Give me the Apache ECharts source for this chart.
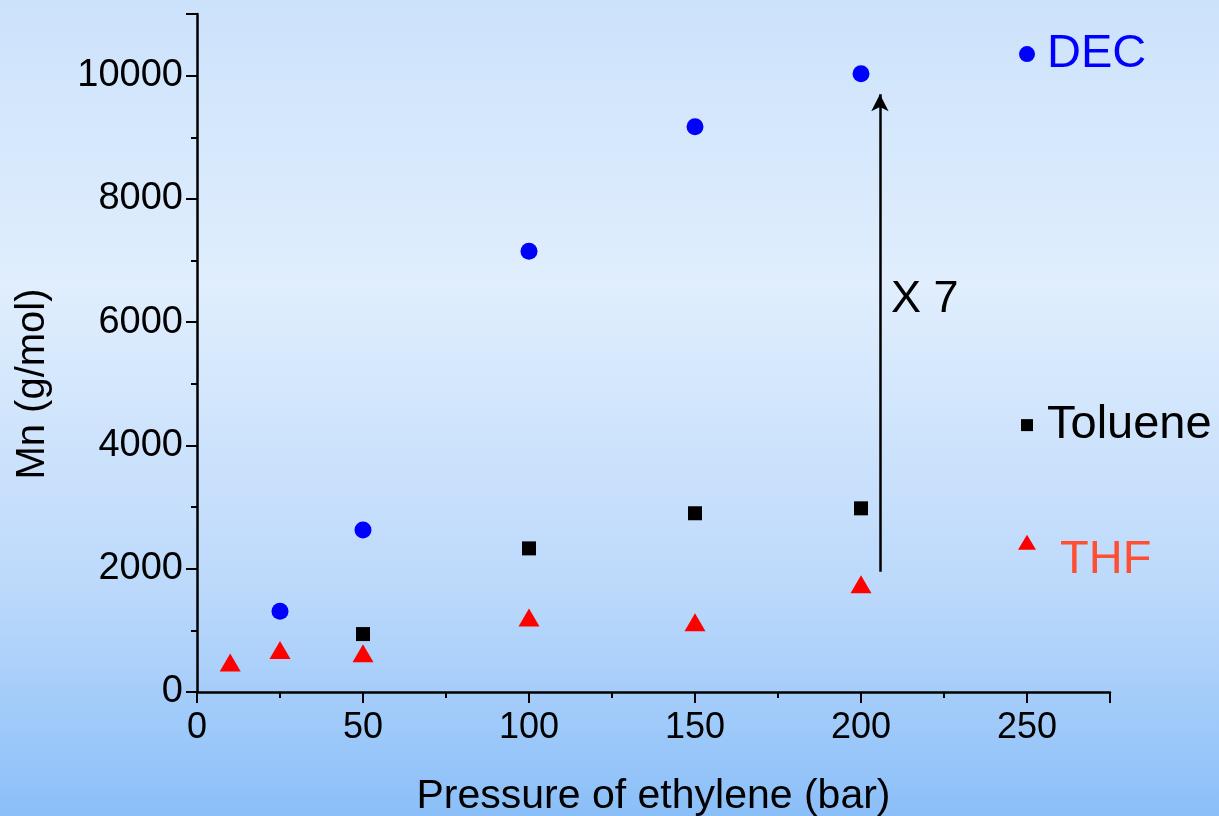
<!DOCTYPE html>
<html>
<head>
<meta charset="utf-8">
<script src="https://cdn.jsdelivr.net/npm/echarts@6/dist/echarts.min.js"></script>
<style>
  html, body { margin: 0; padding: 0; }
  #chart { width: 1219px; height: 816px; }
</style>
</head>
<body>
<div id="chart"></div>
<script>
// pressure (bar) / Mn (g/mol)
var decX = [25, 50, 100, 150, 200];
var decY = [1310, 2630, 7150, 9170, 10030];
var tolX = [50, 100, 150, 200];
var tolY = [940, 2330, 2900, 2980];
var thfX = [10, 25, 50, 100, 150, 200];
var thfY = [480, 680, 630, 1210, 1130, 1750];

// in-plot key markers and labels
var keyNames = ['DEC', 'Toluene', 'THF'];
var keyX = [250, 250, 250];
var keyY = [10350, 4330, 2430];

// "X 7" arrow
var arrowX = 205.7;
var arrowFrom = 1950;
var arrowTo = 9700;
var arrowText = 'X 7';
var arrowTextPos = [209, 6360];

function pairs(xs, ys) {
  return xs.map(function (x, i) { return [x, ys[i]]; });
}

var chart = echarts.init(document.getElementById('chart'));
var font = 'Liberation Sans, Arial, sans-serif';

var option = {
  backgroundColor: new echarts.graphic.LinearGradient(0, 0, 0, 1, [
    { offset: 0, color: '#cce2fb' },
    { offset: 0.35, color: '#e0eefd' },
    { offset: 0.72, color: '#bcd9fb' },
    { offset: 1, color: '#8bbff8' }
  ]),
  animation: false,
  grid: { left: 197, right: 109, top: 14, bottom: 124, outerBoundsMode: 'none' },
  xAxis: {
    type: 'value',
    min: 0,
    max: 275,
    interval: 50,
    name: 'Pressure of ethylene (bar)',
    nameLocation: 'middle',
    nameGap: 84,
    nameTextStyle: { color: '#000', fontSize: 41, fontFamily: font },
    axisLine: { show: true, lineStyle: { color: '#000', width: 2.5 } },
    axisTick: { show: true, length: 11, lineStyle: { color: '#000', width: 2 } },
    minorTick: { show: true, splitNumber: 2, length: 6, lineStyle: { color: '#000', width: 2 } },
    splitLine: { show: false },
    axisLabel: {
      color: '#000', fontSize: 36, fontFamily: font, margin: 18, showMaxLabel: false,
      formatter: function (v) { return String(v); }
    }
  },
  yAxis: {
    type: 'value',
    min: 0,
    max: 11000,
    interval: 2000,
    name: 'Mn (g/mol)',
    nameLocation: 'middle',
    nameGap: 144,
    nameTextStyle: { color: '#000', fontSize: 40, fontFamily: font, padding: [0, 62, 0, 0] },
    axisLine: { show: true, lineStyle: { color: '#000', width: 2.5 } },
    axisTick: { show: true, length: 11, lineStyle: { color: '#000', width: 2 } },
    minorTick: { show: true, splitNumber: 2, length: 6, lineStyle: { color: '#000', width: 2 } },
    splitLine: { show: false },
    axisLabel: {
      color: '#000', fontSize: 38, fontFamily: font, margin: 14, showMaxLabel: false,
      formatter: function (v) { return String(v); }
    }
  },
  series: [
    {
      name: 'DEC',
      type: 'scatter',
      symbol: 'circle',
      symbolSize: 17,
      itemStyle: { color: '#0000ff', opacity: 1 },
      data: pairs(decX, decY)
    },
    {
      name: 'Toluene',
      type: 'scatter',
      symbol: 'rect',
      symbolSize: 14,
      itemStyle: { color: '#000', opacity: 1 },
      data: pairs(tolX, tolY)
    },
    {
      name: 'THF',
      type: 'scatter',
      symbol: 'triangle',
      symbolSize: [21, 18],
      itemStyle: { color: '#ff0000', opacity: 1 },
      data: pairs(thfX, thfY),
      markLine: {
        silent: true,
        symbol: ['none', 'arrow'],
        symbolSize: [13, 17],
        lineStyle: { color: '#000', width: 2.5, type: 'solid', opacity: 1 },
        label: { show: false },
        data: [[{ coord: [arrowX, arrowFrom] }, { coord: [arrowX, arrowTo] }]]
      },
      markPoint: {
        silent: true,
        symbolSize: 0,
        label: {
          show: true,
          position: 'right',
          distance: 0,
          formatter: arrowText,
          color: '#000',
          fontSize: 45,
          fontFamily: font
        },
        data: [{ coord: arrowTextPos }]
      }
    },
    {
      name: 'key DEC',
      type: 'scatter',
      symbol: 'circle',
      symbolSize: 16,
      itemStyle: { color: '#0000ff', opacity: 1 },
      label: { show: true, position: 'right', distance: 12, formatter: keyNames[0], color: '#0000ff', fontSize: 47, fontFamily: font },
      data: [[keyX[0], keyY[0]]]
    },
    {
      name: 'key Toluene',
      type: 'scatter',
      symbol: 'rect',
      symbolSize: 12,
      itemStyle: { color: '#000', opacity: 1 },
      label: { show: true, position: 'right', distance: 14, formatter: keyNames[1], color: '#000', fontSize: 47, fontFamily: font },
      data: [[keyX[1], keyY[1]]]
    },
    {
      name: 'key THF',
      type: 'scatter',
      symbol: 'triangle',
      symbolSize: [18, 15],
      itemStyle: { color: '#ff0000', opacity: 1 },
      label: { show: true, position: 'right', distance: 24, offset: [0, 18], formatter: keyNames[2], color: '#ff4f33', fontSize: 47, fontFamily: font },
      data: [[keyX[2], keyY[2]]]
    }
  ]
};

chart.setOption(option);
</script>
</body>
</html>
